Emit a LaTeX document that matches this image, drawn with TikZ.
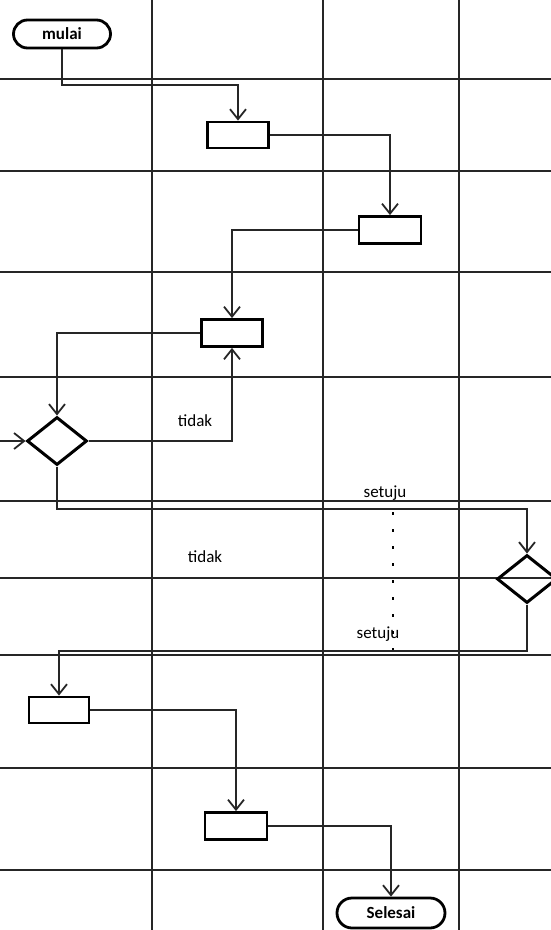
\documentclass[tikz,border=0pt]{standalone}
\usepackage{fontspec}
\setmainfont{Carlito}
\usetikzlibrary{arrows.meta,shapes.geometric,shapes.misc}
\begin{document}
\begin{tikzpicture}[x=1pt,y=-1pt,
  grid/.style={line width=2pt,black!85},
  conn/.style={line width=1.8pt,black!85},
  arr/.style={conn,-{Straight Barb[length=10pt,width=16pt,line width=1.8pt]}},
  actbox/.style={draw,line width=2.8pt,minimum width=60pt,minimum height=26pt,inner sep=0pt},
  termbox/.style={draw,line width=2.8pt,rounded rectangle,inner sep=0pt,font=\bfseries\fontsize{17}{17}\selectfont},
  dec/.style={draw,diamond,line width=3pt,minimum width=60pt,minimum height=48pt,inner sep=0pt,aspect=1.25},
  lbl/.style={font=\fontsize{17}{17}\selectfont,inner sep=1pt}
]
\useasboundingbox (0,0) rectangle (551,930);
\fill[white] (0,0) rectangle (551,930);
% grid
\foreach \x in {152,323,459} \draw[grid] (\x,0) -- (\x,930);
\foreach \y in {79,171,272,377,501,578,655,768,870} \draw[grid] (0,\y) -- (551,\y);
% nodes
\node[termbox,minimum width=97pt,minimum height=28pt] (start) at (62,34) {mulai};
\node[actbox,minimum width=61pt] (b1) at (238,135) {};
\node[actbox,minimum width=62pt,minimum height=27pt] (b2) at (390,230) {};
\node[actbox,minimum width=61pt,minimum height=27pt] (b3) at (232,333) {};
\node[dec] (d1) at (57,441) {};
\node[dec] (d2) at (527,579) {};
\node[actbox,minimum width=60pt] (b4) at (59,710) {};
\node[actbox,minimum width=62pt,minimum height=27pt] (b5) at (236,826) {};
\node[termbox,minimum width=108pt,minimum height=30pt] (end) at (391,913) {Selesai};
\coordinate (inl) at (0,441);
% connectors
\draw[arr] (start.south) |- (238,85) -- (b1.north);
\draw[arr] (b1.east) -| (b2.north);
\draw[arr] (b2.west) -| (b3.north);
\draw[arr] (b3.west) -| (d1.north);
\draw[arr] (d1.east) -| (b3.south);
\draw[arr] (inl) -- (d1.west);
\draw[arr] (d1.south) |- (527,509) -- (d2.north);
\draw[arr] (d2.south) |- (59,651) -- (b4.north);
\draw[arr] (b4.east) -| (b5.north);
\draw[arr] (b5.east) -| (end.north);
% dotted trace
\draw[line width=1.4pt,dash pattern=on 3pt off 14pt] (393,512) -- (393,650);
% labels
\node[lbl] (t1) at (195,421) {tidak};
\node[lbl] (t2) at (205,557) {tidak};
\node[lbl] (s1) at (385,493) {setuju};
\node[lbl] (s2) at (378,634) {setuju};
\end{tikzpicture}
\end{document}
